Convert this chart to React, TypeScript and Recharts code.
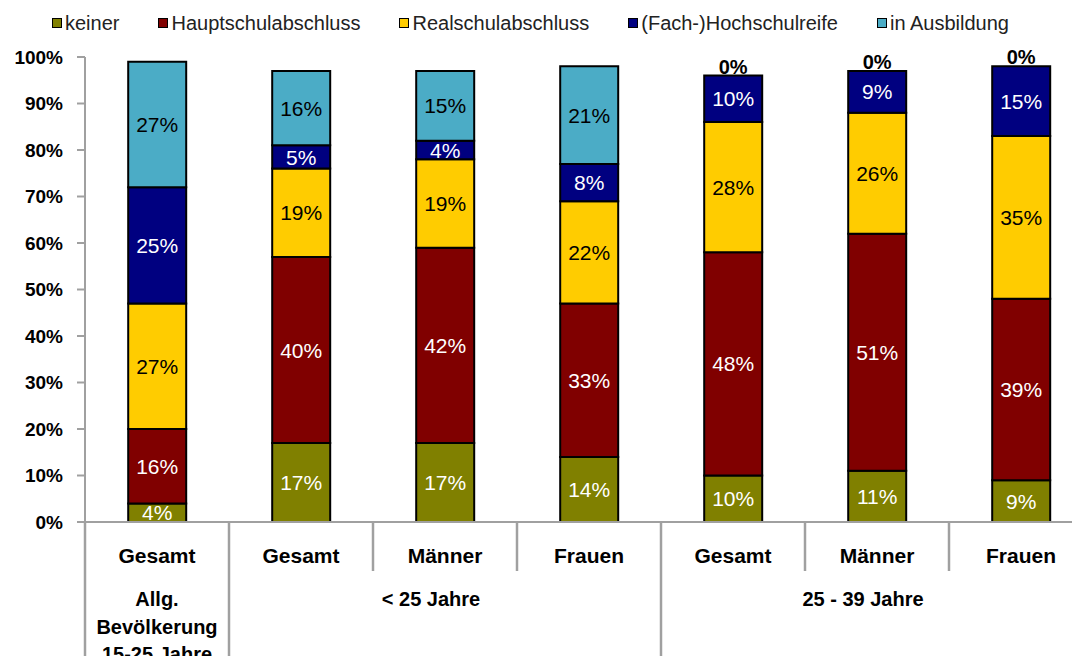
import React from 'react';
import { BarChart, Bar, XAxis, YAxis, LabelList } from 'recharts';

// ---- data (Prozent, von unten nach oben gestapelt) ----
const categories = ['Gesamt', 'Gesamt', 'Männer', 'Frauen', 'Gesamt', 'Männer', 'Frauen'];
const keiner = [4, 17, 17, 14, 10, 11, 9];
const hauptschule = [16, 40, 42, 33, 48, 51, 39];
const realschule = [27, 19, 19, 22, 28, 26, 35];
const hochschulreife = [25, 5, 4, 8, 10, 9, 15];
const ausbildung = [27, 16, 15, 21, 0, 0, 0];
const yTicks = [0, 10, 20, 30, 40, 50, 60, 70, 80, 90, 100];

const groups = [
  { lines: ['Allg.', 'Bevölkerung', '15-25 Jahre'], start: 0, size: 1 },
  { lines: ['< 25 Jahre'], start: 1, size: 3 },
  { lines: ['25 - 39 Jahre'], start: 4, size: 3 },
];

const series = [
  { key: 'keiner', name: 'keiner', color: '#808000', text: '#ffffff' },
  { key: 'haupt', name: 'Hauptschulabschluss', color: '#800000', text: '#ffffff' },
  { key: 'real', name: 'Realschulabschluss', color: '#ffcc00', text: '#000000' },
  { key: 'hoch', name: '(Fach-)Hochschulreife', color: '#000080', text: '#ffffff' },
  { key: 'ausb', name: 'in Ausbildung', color: '#4bacc6', text: '#000000' },
];

const data = categories.map((name, i) => ({
  name,
  keiner: keiner[i],
  haupt: hauptschule[i],
  real: realschule[i],
  hoch: hochschulreife[i],
  ausb: ausbildung[i],
}));

// layout
const CHART_W = 1100;
const CHART_H = 664;
const Y_W = 85;
const RIGHT = 7;
const X_H = 142;
const BAND = (CHART_W - Y_W - RIGHT) / categories.length;
const FONT = '"Liberation Sans", Arial, sans-serif';
const AXIS = '#a0a0a0';

const makeLabel = (textColor: string) => (props: any) => {
  const { x, y, width, height, value } = props;
  if (value == null || value === 0) return null;
  return (
    <text x={Number(x) + Number(width) / 2} y={Number(y) + Number(height) / 2} dy="0.36em" textAnchor="middle" fontSize={21} fill={textColor} fontFamily={FONT}>
      {value}%
    </text>
  );
};

// "0%" ueber dem Balken, wenn "in Ausbildung" leer ist (sitzt auf dem obersten sichtbaren Segment)
const zeroLabel = (props: any) => {
  const { x, y, width, value } = props;
  if (value !== 0) return null;
  return (
    <text x={Number(x) + Number(width) / 2} y={Number(y) - 2} textAnchor="middle" fontSize={20} fontWeight="bold" fill="#000" fontFamily={FONT}>
      0%
    </text>
  );
};

const CategoryTick = (props: any) => {
  const { x, y, payload, index } = props;
  const left = x - BAND / 2;
  const right = x + BAND / 2;
  const groupStart = groups.some((g) => g.start === index);
  const isLast = index === categories.length - 1;
  const group = groups.find((g) => g.start + Math.floor(g.size / 2) === index);
  return (
    <g>
      <line x1={left} y1={y} x2={left} y2={groupStart ? y + X_H : y + 49} stroke={AXIS} strokeWidth={2.5} />
      {isLast && <line x1={right} y1={y} x2={right} y2={y + X_H} stroke={AXIS} strokeWidth={2.5} />}
      <text x={x} y={y + 33} dy="0.36em" textAnchor="middle" fontSize={21} fontWeight="bold" fill="#000" fontFamily={FONT}>
        {payload.value}
      </text>
      {group &&
        group.lines.map((line, li) => (
          <text
            key={li}
            x={group.size > 1 ? x - 14 : x}
            y={y + 77 + li * 27.5}
            dy="0.36em"
            textAnchor="middle"
            fontSize={20}
            fontWeight="bold"
            fill="#000"
            fontFamily={FONT}
          >
            {line}
          </text>
        ))}
    </g>
  );
};

export default function App() {
  return (
    <div style={{ position: 'relative', width: 1080, height: 664, overflow: 'hidden', margin: -8, background: '#fff', fontFamily: FONT }}>
      <div style={{ position: 'absolute', left: 52, top: 12, display: 'flex', gap: 39, alignItems: 'center', height: 22 }}>
        {series.map((s) => (
          <div key={s.key} style={{ display: 'flex', alignItems: 'center' }}>
            <span style={{ width: 8, height: 8, border: '1.5px solid #000', background: s.color, marginRight: 3, display: 'inline-block' }} />
            <span style={{ fontSize: 20, color: '#222', lineHeight: '22px' }}>{s.name}</span>
          </div>
        ))}
      </div>
      <BarChart width={CHART_W} height={CHART_H} data={data} margin={{ top: 57, right: RIGHT, bottom: 0, left: 0 }} barCategoryGap="30%">
        <XAxis
          dataKey="name"
          height={X_H}
          interval={0}
          tickLine={false}
          tickSize={0}
          tickMargin={0}
          axisLine={{ stroke: AXIS, strokeWidth: 2 }}
          tick={<CategoryTick />}
        />
        <YAxis
          width={Y_W}
          domain={[0, 100]}
          ticks={yTicks}
          interval={0}
          tickFormatter={(v: number) => `${v}%`}
          tickSize={8}
          tickMargin={14}
          axisLine={{ stroke: AXIS, strokeWidth: 2 }}
          tickLine={{ stroke: AXIS, strokeWidth: 2 }}
          tick={{ fill: '#000', fontSize: 19, fontWeight: 'bold', fontFamily: FONT }}
        />
        {series.map((s) => (
          <Bar key={s.key} dataKey={s.key} name={s.name} stackId="a" fill={s.color} stroke="#000" strokeWidth={2} isAnimationActive={false}>
            <LabelList dataKey={s.key} content={makeLabel(s.text)} />
            {s.key === 'hoch' && <LabelList dataKey="ausb" content={zeroLabel} />}
          </Bar>
        ))}
      </BarChart>
    </div>
  );
}
